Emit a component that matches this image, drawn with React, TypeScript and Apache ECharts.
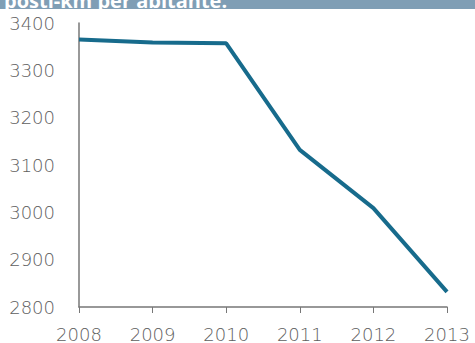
import React, { useEffect, useRef } from "react";
import * as echarts from "echarts";

const years = ["2008", "2009", "2010", "2011", "2012", "2013"];
const postiKm = [3365, 3359, 3357, 3132, 3009, 2832];
const titleText = "posti-km per abitante.";

export default function App() {
  const ref = useRef<HTMLDivElement>(null);
  useEffect(() => {
    const chart = echarts.init(ref.current!, null, { renderer: "svg" });
    const labelStyle = {
      color: "#5e5e5e",
      fontSize: 18,
      fontFamily: "DejaVu Sans",
      fontWeight: 200 as any,
    };
    chart.setOption({
      animation: false,
      backgroundColor: "#ffffff",
      grid: { left: 79, right: 28, top: 23, bottom: 36 },
      graphic: [
        { type: "rect", left: 0, top: 0, shape: { width: 475, height: 9 }, style: { fill: "#7f9eb5" } },
        {
          type: "text",
          x: 4,
          y: 0,
          style: {
            text: titleText,
            fill: "#ffffff",
            font: "bold 20px 'Open Sans'",
            verticalAlign: "middle",
          },
        },
      ],
      xAxis: {
        type: "category",
        data: years,
        boundaryGap: false,
        axisLine: { lineStyle: { color: "#777777", width: 1.5 } },
        axisTick: { show: true, inside: false, length: 6, lineStyle: { color: "#777777" } },
        axisLabel: { ...labelStyle, margin: 18, showMaxLabel: true },
        splitLine: { show: false },
      },
      yAxis: {
        type: "value",
        min: 2800,
        max: 3400,
        interval: 100,
        axisLine: { show: true, lineStyle: { color: "#777777", width: 1.5 } },
        axisTick: { show: false },
        axisLabel: { ...labelStyle, margin: 24, formatter: (v: number) => String(v) },
        splitLine: { show: false },
      },
      series: [
        {
          type: "line",
          data: postiKm,
          symbol: "none",
          lineStyle: { color: "#176b8c", width: 4 },
        },
      ],
    });
    return () => chart.dispose();
  }, []);
  return <div ref={ref} style={{ position: "fixed", left: 0, top: 0, width: 475, height: 343 }} />;
}
